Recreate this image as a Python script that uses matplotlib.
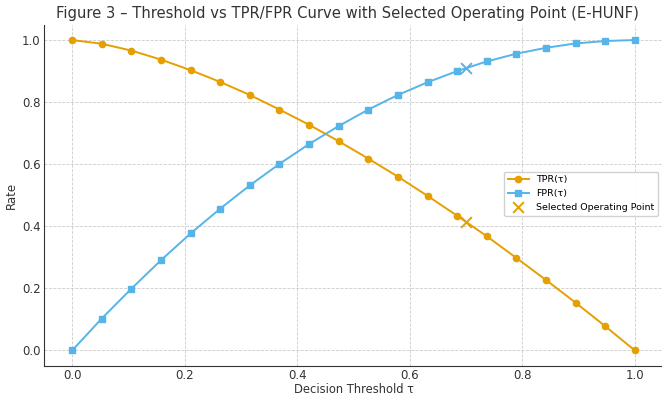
import matplotlib
matplotlib.use("Agg")
import matplotlib.pyplot as plt

thresholds = [0.0, 0.0526, 0.1053, 0.1579, 0.2105, 0.2632, 0.3158, 0.3684, 0.4211, 0.4737,
              0.5263, 0.5789, 0.6316, 0.6842, 0.7368, 0.7895, 0.8421, 0.8947, 0.9474, 1.0]
tpr = [1.0, 0.988, 0.966, 0.937, 0.903, 0.865, 0.823, 0.776, 0.727, 0.674,
       0.618, 0.560, 0.498, 0.434, 0.368, 0.298, 0.227, 0.154, 0.078, 0.0]
fpr = [0.0, 0.103, 0.199, 0.291, 0.377, 0.457, 0.532, 0.601, 0.665, 0.723,
       0.776, 0.823, 0.864, 0.900, 0.931, 0.956, 0.975, 0.989, 0.997, 1.0]
sel_tau = 0.7
sel_tpr = 0.414
sel_fpr = 0.91

orange = "#E69F00"
blue = "#56B4E9"

fig = plt.figure(figsize=(6.62, 3.98), dpi=100)
ax = fig.add_axes([0.0665, 0.0804, 0.935, 0.858])

ax.plot(thresholds, tpr, marker="o", color=orange, lw=1.4, ms=4.5, label="TPR(τ)")
ax.plot(thresholds, fpr, marker="s", color=blue, lw=1.4, ms=4.5, label="FPR(τ)")
ax.scatter([sel_tau], [sel_tpr], marker="x", color=orange, s=60, lw=1.4, zorder=5,
           label="Selected Operating Point")
ax.scatter([sel_tau], [sel_fpr], marker="x", color=blue, s=60, lw=1.4, zorder=5)

ax.set_xlim(-0.05, 1.05)
ax.set_ylim(-0.05, 1.05)
ax.set_xticks([0.0, 0.2, 0.4, 0.6, 0.8, 1.0])
ax.set_yticks([0.0, 0.2, 0.4, 0.6, 0.8, 1.0])
ax.grid(True, ls="--", lw=0.6, color="#cccccc")
ax.set_axisbelow(True)
for s in ["top", "right"]:
    ax.spines[s].set_visible(False)
for s in ["left", "bottom"]:
    ax.spines[s].set_color("#333333")
ax.tick_params(axis="x", colors="#333333", labelsize=8.5, length=0, pad=2)
ax.tick_params(axis="y", colors="#333333", labelsize=8.5, length=0, pad=2.5)
ax.set_xlabel("Decision Threshold τ", fontsize=8.3, color="#333333", labelpad=1)
ax.set_ylabel("Rate", fontsize=8.5, color="#333333", labelpad=3)
ax.set_title("Figure 3 – Threshold vs TPR/FPR Curve with Selected Operating Point (E-HUNF)",
             fontsize=10.6, color="#333333", pad=5, x=0.49)
ax.legend(loc="center right", fontsize=6.8, frameon=True, framealpha=0.9,
          bbox_to_anchor=(1.0, 0.505), handlelength=2.2)

fig.savefig("out.png", dpi=100)
